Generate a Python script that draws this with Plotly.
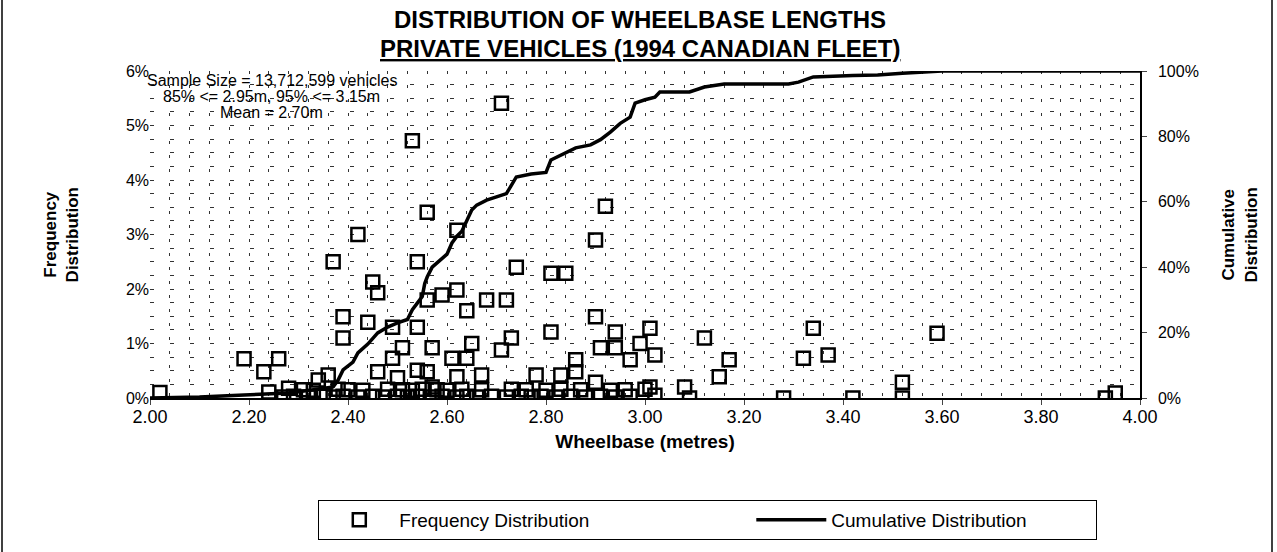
import plotly.graph_objects as go

# frequency distribution (wheelbase in metres, share of fleet in %)
freq_x = [2.02, 2.19, 2.23, 2.26, 2.24, 2.28, 2.34, 2.36, 2.37, 2.39, 2.39, 2.42, 2.44, 2.45,
          2.46, 2.46, 2.49, 2.49, 2.50, 2.51, 2.53, 2.54, 2.54, 2.54, 2.56, 2.56, 2.56, 2.57,
          2.57, 2.59, 2.61, 2.62, 2.62, 2.62, 2.64, 2.64, 2.65, 2.67, 2.68, 2.71, 2.71, 2.72,
          2.73, 2.74, 2.78, 2.81, 2.81, 2.83, 2.84, 2.86, 2.86, 2.90, 2.90, 2.90, 2.91, 2.92,
          2.94, 2.94, 2.97, 2.99, 3.01, 3.01, 3.02, 3.08, 3.09, 3.12, 3.15, 3.17, 3.28, 3.32,
          3.34, 3.37, 3.42, 3.52, 3.52, 3.59, 3.93, 3.95,
          2.27, 2.29, 2.32, 2.35, 2.37, 2.39, 2.42, 2.45, 2.47, 2.50, 2.52, 2.54, 2.57, 2.59,
          2.62, 2.64, 2.66, 2.69, 2.72, 2.75, 2.77, 2.79, 2.82, 2.85, 2.88, 2.91, 2.94, 2.97,
          3.02,
          2.31, 2.33, 2.38, 2.40, 2.43, 2.48, 2.51, 2.53, 2.55, 2.58, 2.60, 2.63, 2.67, 2.73,
          2.76, 2.80, 2.83, 2.87, 2.93, 2.96, 3.00]
freq_y = [0.10, 0.72, 0.48, 0.72, 0.11, 0.18, 0.33, 0.42, 2.50, 1.49, 1.10, 3.00, 1.39, 2.13,
          1.93, 0.48, 1.30, 0.73, 0.37, 0.92, 4.72, 2.50, 1.30, 0.51, 3.41, 1.80, 0.48, 0.92,
          0.20, 1.89, 0.73, 1.98, 3.08, 0.39, 1.60, 0.73, 1.00, 0.42, 1.80, 5.41, 0.88, 1.80,
          1.10, 2.40, 0.42, 2.29, 1.21, 0.42, 2.29, 0.70, 0.48, 2.90, 1.49, 0.29, 0.92, 3.52,
          1.21, 0.92, 0.70, 1.00, 1.28, 0.20, 0.79, 0.20, 0.00, 1.10, 0.39, 0.70, 0.00, 0.73,
          1.28, 0.79, 0.00, 0.29, 0.00, 1.19, 0.00, 0.09,
          0.02, 0.03, 0.02, 0.03, 0.02, 0.03, 0.02, 0.03, 0.02, 0.03, 0.02, 0.03, 0.02, 0.03,
          0.02, 0.03, 0.02, 0.03, 0.02, 0.03, 0.02, 0.03, 0.02, 0.03, 0.02, 0.03, 0.02, 0.03,
          0.05,
          0.15, 0.14, 0.16, 0.15, 0.14, 0.16, 0.15, 0.14, 0.16, 0.15, 0.14, 0.16, 0.15, 0.16,
          0.15, 0.14, 0.16, 0.15, 0.14, 0.15, 0.16]

# cumulative distribution (%)
cum_x = [2.00, 2.10, 2.19, 2.28, 2.33, 2.37, 2.38, 2.39, 2.41, 2.42, 2.44, 2.46, 2.48, 2.50,
         2.52, 2.53, 2.54, 2.55, 2.555, 2.56, 2.57, 2.59, 2.60, 2.61, 2.62, 2.63, 2.64, 2.65,
         2.66, 2.68, 2.70, 2.72, 2.73, 2.74, 2.77, 2.80, 2.81, 2.84, 2.86, 2.89, 2.91, 2.93,
         2.95, 2.97, 2.98, 3.00, 3.02, 3.03, 3.09, 3.12, 3.16, 3.25, 3.29, 3.31, 3.34, 3.42,
         3.47, 3.52, 3.57, 3.60, 4.00]
cum_y = [0.0, 0.3, 0.9, 1.5, 2.5, 3.4, 5.5, 8.6, 11.0, 13.8, 16.5, 19.9, 21.7, 23.0,
         24.0, 27.0, 29.0, 31.0, 35.0, 37.0, 40.0, 42.8, 44.0, 47.4, 49.5, 51.0, 54.0, 57.5,
         59.0, 60.5, 61.5, 62.5, 65.0, 67.6, 68.5, 69.0, 72.8, 75.2, 76.5, 77.4, 79.0, 81.3,
         84.0, 85.9, 90.2, 91.2, 92.0, 93.6, 93.6, 95.1, 96.0, 96.0, 96.0, 96.6, 98.2, 98.6,
         98.8, 99.3, 99.7, 100.0, 100.0]

note_lines = ["Sample Size = 13,712,599 vehicles", "85% <= 2.95m, 95% <= 3.15m", "Mean = 2.70m"]

FONT = "Liberation Sans, Arial, sans-serif"

fig = go.Figure()
fig.add_trace(go.Scatter(x=freq_x, y=freq_y, mode="markers", name="Frequency Distribution",
                         legendwidth=347,
                         marker=dict(symbol="square-open", size=13, color="black",
                                     line=dict(width=2.5, color="black"))))
fig.add_trace(go.Scatter(x=cum_x, y=cum_y, mode="lines", name="Cumulative Distribution",
                         yaxis="y2", legendwidth=260, line=dict(color="black", width=3.5)))

fig.update_layout(
    width=1277, height=552,
    margin=dict(l=150, r=137, t=71, b=154),
    paper_bgcolor="white", plot_bgcolor="white",
    font=dict(family=FONT, size=16, color="black"),
    xaxis=dict(range=[2, 4], dtick=0.2, tickformat=".2f", showline=True, linecolor="black",
               linewidth=1.5, ticks="outside", ticklen=5, ticklabelstandoff=-3,
               tickfont=dict(size=18), zeroline=False,
               showgrid=True, gridcolor="#333", griddash="3px,11px", gridwidth=1,
               minor=dict(dtick=0.04, showgrid=True, gridcolor="#333", griddash="3px,11px"),
               title=dict(text="<b>Wheelbase (metres)</b>", font=dict(size=19), standoff=8)),
    yaxis=dict(range=[0, 6], dtick=1, ticksuffix="%", zeroline=False, showline=False,
               showgrid=True, gridcolor="#333", griddash="4px,16px", gridwidth=1,
               minor=dict(dtick=0.25, showgrid=True, gridcolor="#333", griddash="4px,16px")),
    yaxis2=dict(range=[0, 100], dtick=20, ticksuffix="%", overlaying="y", side="right",
                showgrid=False, zeroline=False, showline=True, linecolor="black",
                linewidth=1.5, ticks="outside", ticklen=5, ticklabelstandoff=8),
    legend=dict(orientation="h", x=0.170, xanchor="left", y=-0.312, yanchor="top",
                bordercolor="black", borderwidth=1, itemwidth=70, font=dict(size=19)),
)

fig.add_annotation(text="<b>DISTRIBUTION OF WHEELBASE LENGTHS</b>", xref="paper", yref="paper",
                   x=0.495, y=1.156, yanchor="middle", showarrow=False, font=dict(size=24))
fig.add_annotation(text="<b><u>PRIVATE VEHICLES (1994 CANADIAN FLEET)</u></b>", xref="paper",
                   yref="paper", x=0.495, y=1.07, yanchor="middle", showarrow=False,
                   font=dict(size=24))
fig.add_annotation(text="<b>Frequency<br>Distribution</b>", xref="paper", yref="paper",
                   x=-0.089, y=0.5, xanchor="center", yanchor="middle", textangle=-90,
                   showarrow=False, font=dict(size=17))
fig.add_annotation(text="<b>Cumulative<br>Distribution</b>", xref="paper", yref="paper",
                   x=1.101, y=0.5, xanchor="center", yanchor="middle", textangle=-90,
                   showarrow=False, font=dict(size=17))
for i, line in enumerate(note_lines):
    fig.add_annotation(text=line, xref="paper", yref="paper", x=0.123, y=0.972 - i * 0.05,
                       xanchor="center", yanchor="middle", showarrow=False,
                       font=dict(size=16))

# outer frame of the figure
for px in (2, 1272):
    xp = (px - 150) / 990
    fig.add_shape(type="line", xref="paper", yref="paper", x0=xp, x1=xp, y0=-0.471, y1=1.217,
                  line=dict(color="black", width=1.5))

fig.write_html("out.html", config={"displayModeBar": False},
               post_script="document.body.style.margin = '0';")
